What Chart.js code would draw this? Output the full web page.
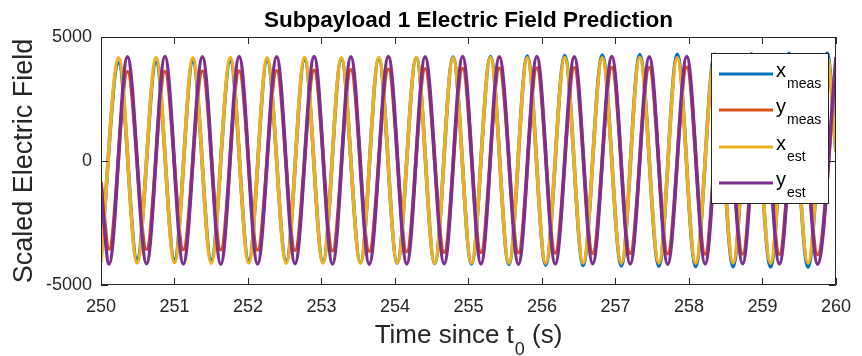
<!DOCTYPE html>
<html>
<head>
<meta charset="utf-8">
<script src="https://cdn.jsdelivr.net/npm/chart.js@4.4.1/dist/chart.umd.min.js"></script>
<style>
  html, body { margin: 0; padding: 0; background: #fff; }
  canvas { display: block; }
</style>
</head>
<body>
<canvas id="fieldChart" width="862" height="356"></canvas>
<script>
// Extremum times (s) for the x components, start and end included
const xTimes = [250.00, 250.24, 250.49, 250.75, 251.00, 251.25, 251.50, 251.76, 252.01, 252.26,
                252.52, 252.77, 253.02, 253.27, 253.53, 253.78, 254.03, 254.29, 254.54, 254.79,
                255.04, 255.30, 255.55, 255.80, 256.05, 256.31, 256.56, 256.82, 257.08, 257.33,
                257.59, 257.84, 258.09, 258.35, 258.60, 258.85, 259.11, 259.36, 259.62, 259.88,
                260.00];
// Extremum times (s) for the y components
const yTimes = [250.00, 250.11, 250.36, 250.62, 250.87, 251.12, 251.38, 251.63, 251.88, 252.13,
                252.39, 252.64, 252.90, 253.15, 253.40, 253.65, 253.91, 254.16, 254.41, 254.67,
                254.92, 255.17, 255.42, 255.68, 255.93, 256.18, 256.44, 256.69, 256.95, 257.20,
                257.46, 257.71, 257.97, 258.22, 258.47, 258.73, 258.98, 259.23, 259.49, 259.75,
                260.00];

const xMeas = [-3900, 3960, -3950, 3980, -3970, 4000, -3990, 4020, -4010, 4050,
               -4040, 4080, -4070, 4100, -4090, 4130, -4110, 4160, -4130, 4190,
               -4150, 4210, -4170, 4230, -4190, 4250, -4210, 4270, -4230, 4290,
               -4240, 4300, -4250, 4310, -4260, 4320, -4270, 4340, -4280, 4350,
               370];
const yMeas = [-850, -3550, 3600, -3560, 3610, -3570, 3620, -3580, 3630, -3590,
               3640, -3600, 3660, -3620, 3680, -3640, 3700, -3660, 3720, -3680,
               3730, -3690, 3740, -3700, 3750, -3710, 3760, -3720, 3770, -3730,
               3770, -3740, 3780, -3750, 3780, -3750, 3790, -3760, 3790, -3770,
               3780];
const xEst = [-4080, 4160, -4110, 4170, -4100, 4160, -4120, 4170, -4110, 4160,
              -4120, 4170, -4110, 4160, -4120, 4170, -4110, 4170, -4120, 4160,
              -4110, 4170, -4120, 4160, -4120, 4170, -4110, 4160, -4120, 4170,
              -4110, 4160, -4120, 4170, -4110, 4160, -4120, 4170, -4110, 4170,
              350];
const yEst = [-960, -4150, 4200, -4140, 4210, -4150, 4200, -4160, 4210, -4150,
              4200, -4140, 4210, -4150, 4200, -4160, 4210, -4150, 4200, -4140,
              4210, -4150, 4200, -4160, 4210, -4150, 4200, -4140, 4210, -4150,
              4200, -4160, 4210, -4150, 4200, -4140, 4210, -4150, 4200, -4160,
              4190];

const xTickValues = [250, 251, 252, 253, 254, 255, 256, 257, 258, 259, 260];
const yTickValues = [-5000, 0, 5000];

const series = [
  { main: 'x', sub: 'meas', times: xTimes, values: xMeas, color: '#0072BD', order: 4 },
  { main: 'y', sub: 'meas', times: yTimes, values: yMeas, color: '#D95319', order: 3 },
  { main: 'x', sub: 'est',  times: xTimes, values: xEst,  color: '#EDB120', order: 2 },
  { main: 'y', sub: 'est',  times: yTimes, values: yEst,  color: '#7E2F8E', order: 1 }
];

const FONT = '"Liberation Sans", Arial, Helvetica, sans-serif';
const INK = '#262626';

// draw "main" with a lowered subscript, starting at x
function subText(ctx, main, sub, x, y, size, subSize, drop) {
  ctx.font = size + 'px ' + FONT;
  ctx.fillText(main, x, y);
  const w = ctx.measureText(main).width;
  ctx.font = subSize + 'px ' + FONT;
  ctx.fillText(sub, x + w + 1, y + drop);
  return w + 1 + ctx.measureText(sub).width;
}

// box, inward ticks, titles and legend
const decorations = {
  id: 'decorations',
  afterDatasetsDraw(chart) {
    const ctx = chart.ctx;
    const { left, right, top, bottom } = chart.chartArea;
    const xs = chart.scales.x, ys = chart.scales.y;
    const tick = 7;
    ctx.save();
    ctx.strokeStyle = INK;
    ctx.lineWidth = 1;
    ctx.beginPath();
    ctx.rect(left + 0.5, top + 0.5, right - left - 1, bottom - top - 1);
    xTickValues.forEach(v => {
      const px = Math.round(xs.getPixelForValue(v)) + 0.5;
      ctx.moveTo(px, bottom); ctx.lineTo(px, bottom - tick);
      ctx.moveTo(px, top); ctx.lineTo(px, top + tick);
    });
    yTickValues.forEach(v => {
      const py = Math.round(ys.getPixelForValue(v)) + 0.5;
      ctx.moveTo(left, py); ctx.lineTo(left + tick, py);
      ctx.moveTo(right, py); ctx.lineTo(right - tick, py);
    });
    ctx.stroke();
    ctx.restore();
  },
  afterDraw(chart) {
    const ctx = chart.ctx;
    const { left, right } = chart.chartArea;
    const mid = (left + right) / 2;
    ctx.save();
    ctx.fillStyle = '#000';
    ctx.textBaseline = 'alphabetic';

    // title
    ctx.font = 'bold 22.5px ' + FONT;
    ctx.textAlign = 'center';
    ctx.fillText('Subpayload 1 Electric Field Prediction', mid, 27);

    // x axis label with subscript
    ctx.fillStyle = INK;
    ctx.textAlign = 'left';
    ctx.font = '26px ' + FONT;
    const a = 'Time since t', b = ' (s)';
    const wa = ctx.measureText(a).width, wb = ctx.measureText(b).width;
    ctx.font = '18px ' + FONT;
    const w0 = ctx.measureText('0').width;
    let x0 = mid - (wa + w0 + wb + 1) / 2;
    ctx.font = '26px ' + FONT;
    ctx.fillText(a, x0, 343);
    ctx.font = '18px ' + FONT;
    ctx.fillText('0', x0 + wa + 1, 355);
    ctx.font = '26px ' + FONT;
    ctx.fillText(b, x0 + wa + w0 + 1, 343);

    // y axis label
    ctx.translate(32, (chart.chartArea.top + chart.chartArea.bottom) / 2);
    ctx.rotate(-Math.PI / 2);
    ctx.textAlign = 'center';
    ctx.font = '27px ' + FONT;
    ctx.fillText('Scaled Electric Field', 0, 0);
    ctx.setTransform(1, 0, 0, 1, 0, 0);

    // legend
    const bx = 711, by = 53, bw = 117, bh = 150;
    ctx.fillStyle = '#fff';
    ctx.fillRect(bx, by, bw, bh);
    ctx.strokeStyle = INK;
    ctx.lineWidth = 1;
    ctx.strokeRect(bx + 0.5, by + 0.5, bw, bh);
    const rows = [74, 110, 147, 183];
    series.forEach((s, i) => {
      const cy = rows[i];
      ctx.strokeStyle = s.color;
      ctx.lineWidth = 3;
      ctx.beginPath();
      ctx.moveTo(719, cy);
      ctx.lineTo(773, cy);
      ctx.stroke();
      ctx.fillStyle = '#000';
      ctx.textAlign = 'left';
      subText(ctx, s.main, s.sub, 776, cy + 3, 20, 14, 11);
    });
    ctx.restore();
  }
};

const ctx = document.getElementById('fieldChart').getContext('2d');
const chart = new Chart(ctx, {
  type: 'line',
  data: {
    datasets: series.map(s => ({
      label: s.main + '_' + s.sub,
      data: s.times.map((t, i) => ({ x: t, y: s.values[i] })),
      borderColor: s.color,
      backgroundColor: s.color,
      borderWidth: 3.6,
      pointRadius: 0,
      cubicInterpolationMode: 'monotone',
      order: s.order,
      fill: false
    }))
  },
  options: {
    responsive: false,
    animation: false,
    devicePixelRatio: 1,
    layout: { padding: { top: 37, right: 19, left: 0, bottom: 0 } },
    plugins: {
      legend: { display: false },
      tooltip: { enabled: false },
      title: { display: false }
    },
    scales: {
      x: {
        type: 'linear',
        min: 250,
        max: 260,
        afterFit: s => { s.height = 71; },
        afterBuildTicks: s => { s.ticks = xTickValues.map(v => ({ value: v })); },
        ticks: { color: INK, padding: 11, maxRotation: 0, autoSkip: false,
                 callback: v => String(v),
                 font: { family: FONT, size: 18 } },
        grid: { display: false, drawTicks: false },
        border: { display: false }
      },
      y: {
        type: 'linear',
        min: -5000,
        max: 5000,
        afterFit: s => { s.width = 101; },
        afterBuildTicks: s => { s.ticks = yTickValues.map(v => ({ value: v })); },
        ticks: { color: INK, padding: 9, callback: v => String(v),
                 font: { family: FONT, size: 18 } },
        grid: { display: false, drawTicks: false },
        border: { display: false }
      }
    }
  },
  plugins: [decorations]
});
</script>
</body>
</html>
